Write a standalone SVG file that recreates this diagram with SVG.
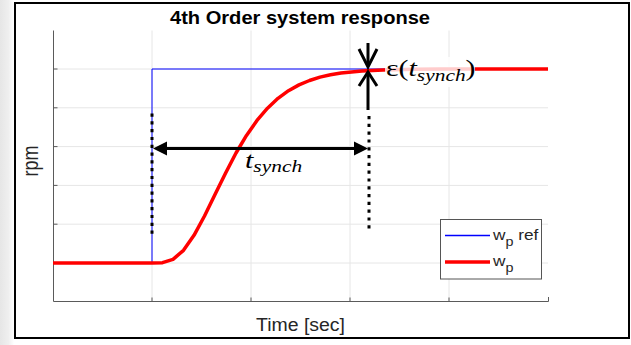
<svg xmlns="http://www.w3.org/2000/svg" width="631" height="345" viewBox="0 0 631 345">
<defs>
<linearGradient id="shadow" x1="0" y1="0" x2="1" y2="0">
<stop offset="0" stop-color="#e6e6e6"/>
<stop offset="0.6" stop-color="#efefef"/>
<stop offset="1" stop-color="#ffffff"/>
</linearGradient>
</defs>
<style>
.grid{stroke:#e6e6e6;stroke-width:1;fill:none}
.axis{stroke:#5a5a5a;stroke-width:1;fill:none}
.lbl{font-family:"Liberation Sans",Arial,sans-serif;fill:#262626}
.math{font-family:"Liberation Serif","DejaVu Serif",serif;fill:#000}
.dot{stroke:#000;stroke-width:3;stroke-dasharray:3.2 4.6;fill:none}
.arr{stroke:#000;stroke-width:3;fill:none;stroke-linecap:butt}
.ref{stroke:#0000ff;stroke-width:1;fill:none}
.resp{stroke:#ff0000;stroke-width:3.5;fill:none;stroke-linejoin:round}
</style>
<rect x="0" y="0" width="631" height="345" fill="#ffffff"/>
<rect x="0" y="0" width="14" height="345" fill="url(#shadow)"/>
<g id="frame">
<rect x="15" y="3" width="614" height="335" fill="#ffffff" stroke="#000" stroke-width="2"/>
</g>
<g id="title">
<text x="300" y="24" text-anchor="middle" font-family="Liberation Sans,Arial,sans-serif" font-weight="bold" font-size="17.5" fill="#000" textLength="260" lengthAdjust="spacingAndGlyphs">4th Order system response</text>
</g>
<g id="grid">
<path class="grid" d="M152,30.5V302M251,30.5V302M350,30.5V302M449,30.5V302M53,69H548M53,107.8H548M53,146.6H548M53,185.4H548M53,224.2H548M53,263H548"/>
</g>
<g id="axes">
<path class="axis" d="M53.5,30.5V301.5H548.5V297M152,301.5V297.5M251,301.5V297.5M350,301.5V297.5M449,301.5V297.5M53.5,69H57.5M53.5,107.8H57.5M53.5,146.6H57.5M53.5,185.4H57.5M53.5,224.2H57.5M53.5,263H57.5"/>
<text class="lbl" font-size="18" transform="translate(38,161) rotate(-90) scale(1,1.2)" text-anchor="middle">rpm</text>
<text class="lbl" x="256" y="331" font-size="18" textLength="89" lengthAdjust="spacingAndGlyphs">Time [sec]</text>
</g>
<g id="ref-line">
<path class="ref" d="M53,263H152V69H548"/>
</g>
<g id="response">
<polyline class="resp" points="53,263 152,263 162.5,262.7 173,259.3 183.5,250.3 194,235.3 204.5,216 215,194.5 225.5,173.2 236,153 246.5,135.4 257,120.4 267.5,108.2 278,98.3 288.5,90.7 299,84.9 309.5,80.5 320,77.1 330.5,74.8 341,73.1 351.5,71.9 362,71 372.5,70.4 383,70 393.5,69.65 414,69.2 440,69 548,69"/>
</g>
<g id="legend">
<rect x="440.5" y="219.5" width="101" height="59.5" fill="#fff" stroke="#555" stroke-width="1"/>
<line x1="445" y1="235.5" x2="490" y2="235.5" stroke="#0000ff" stroke-width="1.5"/>
<line x1="445" y1="262" x2="490" y2="262" stroke="#ff0000" stroke-width="3.5"/>
<text class="lbl" x="493" y="240" font-size="15" transform="translate(493,0) scale(1.15,1) translate(-493,0)">w<tspan font-size="12.5" dy="6">p</tspan><tspan dy="-6"> ref</tspan></text>
<text class="lbl" x="493" y="266" font-size="15" transform="translate(493,0) scale(1.15,1) translate(-493,0)">w<tspan font-size="12.5" dy="6">p</tspan></text>
</g>
<g id="eps-label">
<rect x="385" y="57" width="90" height="30" fill="#fff" fill-opacity="0.8"/>
<text class="math" font-size="23" transform="translate(386,76) scale(1.3,1)">ε(<tspan font-style="italic">t</tspan><tspan font-style="italic" font-size="16.5" dy="5">synch</tspan><tspan dy="-5">)</tspan></text>
</g>
<g id="tsynch-label">
<text class="math" font-size="23" transform="translate(245,168) scale(1.3,1)"><tspan font-style="italic">t</tspan><tspan font-style="italic" font-size="16.5" dy="4">synch</tspan></text>
</g>
<g id="connectors">
<line class="dot" x1="152" y1="113.5" x2="152" y2="236"/>
<line class="dot" x1="369" y1="116" x2="369" y2="231"/>
<line class="arr" x1="162" y1="148.5" x2="360" y2="148.5" stroke-width="2.5"/>
<polygon points="153,148.5 167,141.5 167,155.5" fill="#000"/>
<polygon points="368,148.5 354,141.5 354,155.5" fill="#000"/>
<line class="arr" x1="368" y1="43" x2="368" y2="66"/>
<polyline class="arr" points="359,49 368,67 377,49"/>
<line class="arr" x1="368" y1="74" x2="368" y2="110"/>
<polyline class="arr" points="359,86 368,72 377,86"/>
</g>
</svg>
